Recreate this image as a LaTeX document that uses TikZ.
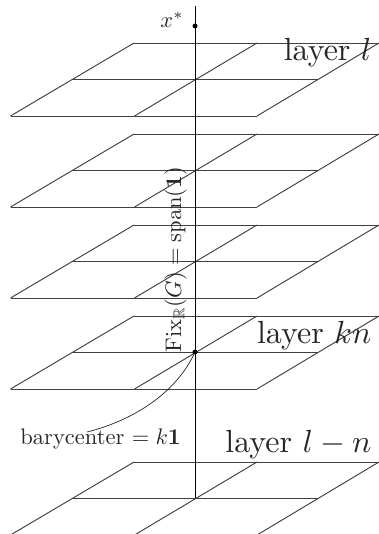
\documentclass[tikz,border=0pt]{standalone}
\usepackage{amssymb}
\usepackage{amsmath}
\tikzset{
  gridline/.style={draw=black!75,line width=0.95pt},
  axisline/.style={draw=black,line width=0.9pt},
  curveline/.style={draw=black!85,line width=0.7pt},
  dotmark/.style={circle,fill=black,inner sep=0pt,minimum size=5pt},
  biglabel/.style={inner sep=0pt,scale=3.2,text=black!85},
  midlabel/.style={inner sep=0pt,scale=2.25,text=black!85},
}
\newcommand{\gridlayer}[1]{%
  \draw[gridline] (134,#1) -- (379,#1) (72,#1+36.5) -- (318,#1+36.5) (10.5,#1+73) -- (257,#1+73);
  \draw[gridline] (134,#1) -- (10.5,#1+73) (257,#1) -- (134.5,#1+73) (379,#1) -- (257,#1+73);
}
\begin{document}
\begin{tikzpicture}[x=1pt,y=-1pt]
\useasboundingbox (0,0) rectangle (379,534);
\gridlayer{43}
\gridlayer{134}
\gridlayer{225}
\gridlayer{316}
\begin{scope}
\clip (0,0) rectangle (379,534);
\gridlayer{462}
\end{scope}
\coordinate (top) at (195,6);
\coordinate (bottom) at (195,498);
\draw[axisline] (top) -- (bottom);
\node[dotmark] (xstar) at (195,26) {};
\node[dotmark] (bary) at (195,352) {};
\coordinate (curveend) at (87,432);
\draw[curveline] (bary) .. controls (176,392) and (135,420) .. (curveend);
\node[midlabel] (xlabel) at (172,20) {$x^*$};
\node[biglabel,anchor=base east] (l1) at (372,61) {layer $l$};
\node[biglabel,anchor=base east] (l2) at (372,343) {layer $kn$};
\node[biglabel,anchor=base east] (l3) at (372,452) {layer $l-n$};
\node[midlabel,anchor=base west] (bc) at (20,444) {barycenter $= k\mathbf{1}$};
\node[midlabel,rotate=90,anchor=base west] (fix) at (181,353) {$\mathrm{Fix}_{\mathbb{R}}(G)=\mathrm{span}(\mathbf{1})$};
\end{tikzpicture}
\end{document}
